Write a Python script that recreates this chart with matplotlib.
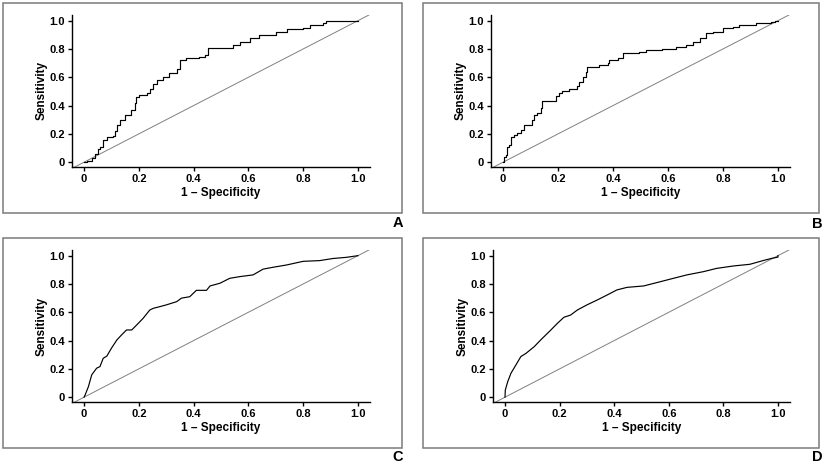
import matplotlib
matplotlib.use("Agg")
import matplotlib.pyplot as plt
from matplotlib.patches import Rectangle

plt.rcParams["font.family"] = ["Liberation Sans", "DejaVu Sans"]
plt.rcParams["font.weight"] = "bold"

# ---- ROC curves ----
a_fpr = [0, 0.01, 0.02, 0.03, 0.04, 0.05, 0.058, 0.07, 0.083, 0.107, 0.113, 0.12, 0.13, 0.15,
         0.17, 0.186, 0.19, 0.2, 0.23, 0.24, 0.25, 0.265, 0.29, 0.31, 0.34, 0.35, 0.374,
         0.42, 0.44, 0.453, 0.53, 0.545, 0.57, 0.605, 0.64, 0.70, 0.74, 0.80, 0.824,
         0.872, 0.885, 1.0]
a_tpr = [0, 0.005, 0.01, 0.03, 0.06, 0.09, 0.11, 0.16, 0.18, 0.186, 0.22, 0.26, 0.30, 0.33,
         0.37, 0.42, 0.46, 0.475, 0.49, 0.52, 0.55, 0.58, 0.60, 0.63, 0.66, 0.72, 0.734,
         0.746, 0.76, 0.805, 0.805, 0.83, 0.85, 0.875, 0.9, 0.92, 0.94, 0.946, 0.97,
         0.98, 1.0, 1.0]

b_fpr = [0, 0.004, 0.01, 0.016, 0.022, 0.028, 0.04, 0.052, 0.064, 0.077, 0.095, 0.107,
         0.113, 0.125, 0.137, 0.143, 0.18, 0.192, 0.204, 0.216, 0.24, 0.27, 0.277, 0.29,
         0.30, 0.307, 0.338, 0.35, 0.38, 0.386, 0.417, 0.435, 0.496, 0.52, 0.58, 0.63,
         0.666, 0.69, 0.715, 0.74, 0.763, 0.80, 0.836, 0.86, 0.92, 0.975, 0.99, 1.0]
b_tpr = [0, 0.04, 0.05, 0.11, 0.12, 0.18, 0.19, 0.205, 0.23, 0.265, 0.265, 0.30,
         0.335, 0.345, 0.38, 0.43, 0.43, 0.465, 0.487, 0.5, 0.52, 0.535, 0.57, 0.605,
         0.64, 0.675, 0.675, 0.69, 0.70, 0.72, 0.734, 0.77, 0.78, 0.795, 0.8, 0.815,
         0.83, 0.85, 0.875, 0.91, 0.92, 0.945, 0.955, 0.97, 0.98, 0.99, 1.0, 1.0]

c_fpr = [0, 0.004, 0.016, 0.028, 0.046, 0.058, 0.07, 0.083, 0.10, 0.12, 0.137, 0.155,
         0.174, 0.192, 0.216, 0.24, 0.253, 0.277, 0.30, 0.338, 0.356, 0.386, 0.41, 0.447,
         0.46, 0.496, 0.532, 0.569, 0.617, 0.654, 0.69, 0.739, 0.80, 0.86, 0.909, 0.957, 1.0]
c_tpr = [0, 0.016, 0.075, 0.158, 0.205, 0.216, 0.275, 0.29, 0.346, 0.405, 0.44, 0.475,
         0.475, 0.51, 0.558, 0.616, 0.628, 0.64, 0.652, 0.675, 0.70, 0.71, 0.755, 0.755,
         0.786, 0.805, 0.84, 0.852, 0.864, 0.905, 0.918, 0.934, 0.96, 0.965, 0.98, 0.988, 1.0]

d_fpr = [0, 0.001, 0.01, 0.022, 0.04, 0.058, 0.077, 0.107, 0.131, 0.168, 0.192, 0.216,
         0.24, 0.265, 0.30, 0.338, 0.374, 0.41, 0.447, 0.508, 0.569, 0.617, 0.666, 0.727,
         0.775, 0.836, 0.897, 0.945, 0.975, 1.0, 1.0]
d_tpr = [0, 0.05, 0.11, 0.17, 0.228, 0.287, 0.31, 0.357, 0.405, 0.475, 0.522, 0.565,
         0.58, 0.616, 0.652, 0.687, 0.722, 0.758, 0.776, 0.786, 0.816, 0.84, 0.864, 0.887,
         0.91, 0.927, 0.939, 0.965, 0.98, 0.99, 1.0]

panel_letters = ["A", "B", "C", "D"]
tick_values = [0, 0.2, 0.4, 0.6, 0.8, 1.0]
tick_labels = ["0", "0.2", "0.4", "0.6", "0.8", "1.0"]

W, H = 825, 465


def px_box(x0, y0, x1, y1):
    # pixel box (top-left origin) -> figure fraction [left, bottom, width, height]
    return [x0 / W, 1 - y1 / H, (x1 - x0) / W, (y1 - y0) / H]


fig = plt.figure(figsize=(W / 100, H / 100), dpi=100)

axes_boxes = [px_box(72, 15, 370, 167), px_box(491, 15, 790, 167),
              px_box(72, 250, 370, 402), px_box(493, 250, 790, 402)]
frame_boxes = [px_box(3, 3, 402, 212.7), px_box(422.7, 3, 819, 212.7),
               px_box(3, 237.7, 402, 448), px_box(422.7, 237.7, 819, 448)]
letter_pos = [(397.7, 223), (817, 224), (397.7, 457), (817, 457)]

curves = [(a_fpr, a_tpr, "steps-post"), (b_fpr, b_tpr, "steps-post"),
          (c_fpr, c_tpr, "default"), (d_fpr, d_tpr, "default")]

for i, (fpr, tpr, ds) in enumerate(curves):
    fb = frame_boxes[i]
    fig.patches.append(Rectangle((fb[0], fb[1]), fb[2], fb[3], transform=fig.transFigure,
                                 fill=False, edgecolor="#7a7a7a", linewidth=1.1))
    lx, ly = letter_pos[i]
    fig.text(lx / W, 1 - ly / H, panel_letters[i], ha="center", va="center",
             fontsize=10.5, fontweight="bold")

    ax = fig.add_axes(axes_boxes[i])
    ax.plot([-0.04, 1.04], [-0.04, 1.04], color="#808080", linewidth=0.7)
    ax.plot(fpr, tpr, color="black", linewidth=0.85, drawstyle=ds)
    ax.set_xlim(-0.044, 1.044)
    ax.set_ylim(-0.034, 1.04)
    ax.spines["top"].set_visible(False)
    ax.spines["right"].set_visible(False)
    ax.spines["left"].set_linewidth(1.0)
    ax.spines["bottom"].set_linewidth(1.0)
    ax.set_xticks(tick_values)
    ax.set_xticklabels(tick_labels)
    ax.set_yticks(tick_values)
    ax.set_yticklabels(tick_labels)
    ax.tick_params(direction="out", length=3, width=1.0, labelsize=8, pad=2)
    ax.set_xlabel("1 \u2013 Specificity", fontsize=8.5, fontweight="bold", labelpad=2)
    ax.set_ylabel("Sensitivity", fontsize=8.5, fontweight="bold", labelpad=1)

fig.savefig("out.png", dpi=100)
